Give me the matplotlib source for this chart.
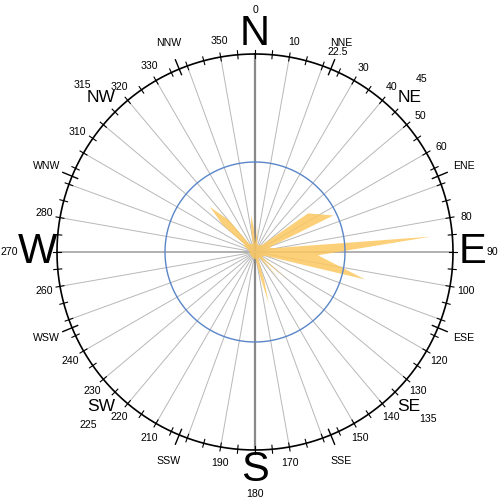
import numpy as np
import matplotlib
matplotlib.use("Agg")
from matplotlib import pyplot as plt

plt.rcParams['font.family'] = ['Liberation Sans', 'DejaVu Sans']

# rose outline: bearing (deg, clockwise from N) and radius
rose_deg = [285, 300, 305, 310, 315, 320.5, 325,
            345, 351, 354, 357, 0, 4, 6, 8, 15,
            35, 45, 54, 65, 72, 78, 85, 93, 104, 110,
            125, 130, 133, 138, 142, 155, 162, 165, 168, 175, 200, 250]
rose_val = [0.7, 1.6, 1.3, 4.7, 7.1, 4.6, 1.1,
            0.9, 2.8, 4.1, 2.7, 0.9, 1.7, 3.0, 1.6, 0.9,
            0.9, 1.1, 7.3, 9.6, 1.7, 2.0, 19.6, 7.0, 12.6, 1.3,
            0.9, 4.7, 1.1, 3.9, 0.8, 0.9, 3.3, 5.9, 2.8, 0.8, 0.7, 0.6]

ring_outer = 22
ring_inner = 10

num_labels = [10, 30, 40, 50, 60, 80, 100, 120, 130, 140, 150, 170,
              190, 210, 220, 230, 240, 260, 280, 310, 320, 330, 350]
sixteen = ['NNE', 'ENE', 'ESE', 'SSE', 'SSW', 'WSW', 'WNW', 'NNW']
sixteen_deg = [22.5, 67.5, 112.5, 157.5, 202.5, 247.5, 292.5, 337.5]
inter = ['NE', 'SE', 'SW', 'NW']
inter_deg = [45, 135, 225, 315]
cardinal = ['N', 'E', 'S', 'W']
cardinal_deg = [0, 90, 180, 270]

px = 9.0  # pixels per unit
fig = plt.figure(figsize=(5, 5), dpi=100)
ax = fig.add_axes([0.01, -0.004, 1, 1], projection='polar')
ax.set_theta_zero_location('N')
ax.set_theta_direction(-1)
ax.set_ylim(0, 250 / px)
ax.grid(False)
ax.set_xticks([])
ax.set_yticks([])
ax.spines['polar'].set_visible(False)
ax.patch.set_alpha(0)

rad = np.deg2rad
R = ring_outer

# spokes
for d in range(0, 360, 10):
    if d % 90 == 0:
        continue
    ax.plot([rad(d), rad(d)], [0, R], color='#b8b8b8', lw=0.7, zorder=2)
ax.plot([0, 0], [0, R], color='#888888', lw=1.6, zorder=3)
ax.plot([rad(180), rad(180)], [0, R], color='#888888', lw=1.6, zorder=3)
ax.plot([rad(90), rad(90)], [0, R], color='#aaaaaa', lw=1.3, zorder=3)
ax.plot([rad(270), rad(270)], [0, R], color='#aaaaaa', lw=1.3, zorder=3)

# rose
ax.fill(rad(np.array(rose_deg)), rose_val, color='#FCC860', alpha=0.85,
        lw=0, zorder=4)

th = np.linspace(0, 2 * np.pi, 721)
ax.plot(th, np.full_like(th, ring_inner), color='#5a86c8', lw=1.0, zorder=5)
ax.plot(th, np.full_like(th, R), color='black', lw=1.2, zorder=5)

# ticks
for d in range(0, 360, 5):
    ax.plot([rad(d), rad(d)], [R - 4 / px, R + 4 / px], color='black', lw=0.8, zorder=5)
for d in sixteen_deg:
    ax.plot([rad(d), rad(d)], [R - 6 / px, R + 10 / px], color='black', lw=1.0, zorder=5)

# labels
for v in num_labels:
    if v == 310:
        a = 304
    elif 180 < v < 270 or v == 40:
        a = v - 0.5
    else:
        a = v + 0.5
    ax.text(rad(a), 214 / px, str(v), ha='center', va='center', fontsize=7.6)
for s, d in zip(sixteen, sixteen_deg):
    ax.text(rad(d), 226 / px, s, ha='center', va='center', fontsize=7.6)
for s, d in zip(inter, inter_deg):
    ax.text(rad(d), 218 / px, s, ha='center', va='center', fontsize=12.5)
    ax.text(rad(d - 1), 240 / px, str(d), ha='center', va='center', fontsize=7.6)
ax.text(rad(22.5), 216 / px, '22.5', ha='center', va='center', fontsize=7.6)
for s, d in zip(cardinal, cardinal_deg):
    ax.text(rad(d), 218 / px, s, ha='center', va='center', fontsize=30)
    rr = {270: 246, 90: 237}.get(d, 242)
    ax.text(rad(d), rr / px, str(d), ha='center', va='center', fontsize=7.6)

fig.savefig('out.png', dpi=100)
